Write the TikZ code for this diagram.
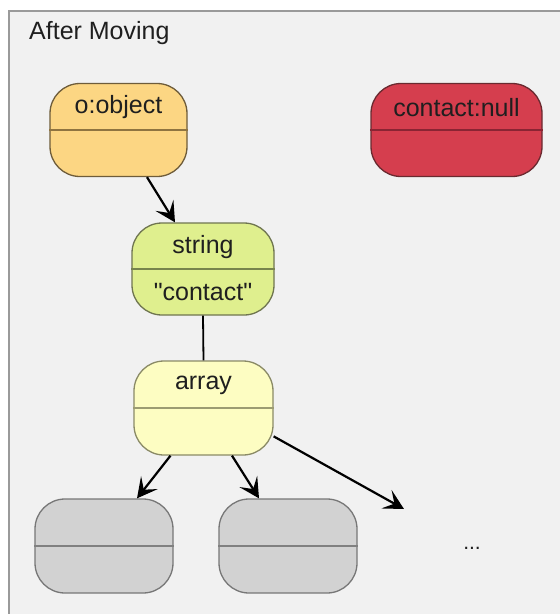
\documentclass[tikz,border=0pt]{standalone}
\usepackage{fontspec}
\setmainfont{Liberation Sans}[Ligatures=TeXOff]
\usetikzlibrary{calc,arrows.meta}
\definecolor{bgc}{HTML}{F1F1F1}
\definecolor{framec}{HTML}{9A9A9A}
\definecolor{ofill}{HTML}{FCD683}
\definecolor{oline}{HTML}{6E5C3A}
\definecolor{odiv}{HTML}{8F7440}
\definecolor{cfill}{HTML}{D53E4E}
\definecolor{cline}{HTML}{6A2A30}
\definecolor{cdiv}{HTML}{8A2433}
\definecolor{sfill}{HTML}{DFEF8E}
\definecolor{sline}{HTML}{6F7550}
\definecolor{sdiv}{HTML}{77844C}
\definecolor{afill}{HTML}{FDFDC2}
\definecolor{aline}{HTML}{8A8A66}
\definecolor{adiv}{HTML}{9C9C72}
\definecolor{gfill}{HTML}{D2D2D2}
\definecolor{gline}{HTML}{777777}
\definecolor{gdiv}{HTML}{808080}
\tikzset{
  x=1pt,y=1pt,
  obj/.style={draw, rounded corners=30pt, minimum height=93pt, line width=1.3pt, inner sep=0pt},
  txt/.style={font=\fontsize{25}{29}\selectfont, inner sep=0pt, text=black!88},
  arr/.style={line width=2.2pt, -{Stealth[length=20pt,width=21pt,inset=9pt]}},
  divline/.style={line width=1.6pt}
}
\begin{document}
\begin{tikzpicture}
\useasboundingbox (0,0) rectangle (560,-614);
\fill[white] (0,0) rectangle (560,-614);
\fill[bgc] (9,-11) rectangle (560,-614);
\draw[framec, line width=2pt] (9,-614) -- (9,-11) -- (560,-11);
\node[txt, anchor=west] (title) at (29,-33) {After Moving};

% o:object
\node[obj, fill=ofill, draw=oline, minimum width=137pt] (obj) at (118.5,-130) {};
\draw[divline, odiv] (obj.west) -- (obj.east);
\node[txt] (objt) at ($(obj.center)!0.5!(obj.north)+(0,-1)$) {o:object};

% contact:null
\node[obj, fill=cfill, draw=cline, minimum width=171pt] (cnull) at (456.5,-130) {};
\draw[divline, cdiv] (cnull.west) -- (cnull.east);
\node[txt] (cnullt) at ($(cnull.center)!0.5!(cnull.north)+(0,-1)$) {contact:null};

% string
\node[obj, fill=sfill, draw=sline, minimum width=142pt, minimum height=92pt] (str) at (203,-269) {};
\draw[divline, sdiv] (str.west) -- (str.east);
\node[txt] (strt) at ($(str.center)!0.5!(str.north)+(0,-1)$) {string};
\node[txt] (strv) at ($(str.center)!0.5!(str.south)$) {"contact"};

% array
\node[obj, fill=afill, draw=aline, minimum width=139pt, minimum height=94pt] (arr) at (203.5,-408) {};
\draw[divline, adiv] (arr.west) -- (arr.east);
\node[txt] (arrt) at ($(arr.center)!0.5!(arr.north)+(0,-1)$) {array};

% gray elements
\node[obj, fill=gfill, draw=gline, minimum width=138pt, minimum height=94pt] (g1) at (104,-546) {};
\draw[divline, gdiv] (g1.west) -- (g1.east);
\node[obj, fill=gfill, draw=gline, minimum width=138pt, minimum height=94pt] (g2) at (288,-546) {};
\draw[divline, gdiv] (g2.west) -- (g2.east);
\node[txt, font=\fontsize{21}{24}\selectfont] (dots) at (472,-548) {...};
\coordinate (free) at (404,-509);

% connectors
\draw[arr] ($(obj.south)+(28.5,0)$) -- ($(str.north)+(-28,0)$);
\draw[line width=1.8pt] (str.south) -- (arr.north);
\draw[arr] ($(arr.south)+(-33,0)$) -- ($(g1.north)+(33,0)$);
\draw[arr] ($(arr.south)+(28.5,0)$) -- ($(g2.north)+(-29,0)$);
\draw[arr] (arr.-22) -- (free);
\end{tikzpicture}
\end{document}
